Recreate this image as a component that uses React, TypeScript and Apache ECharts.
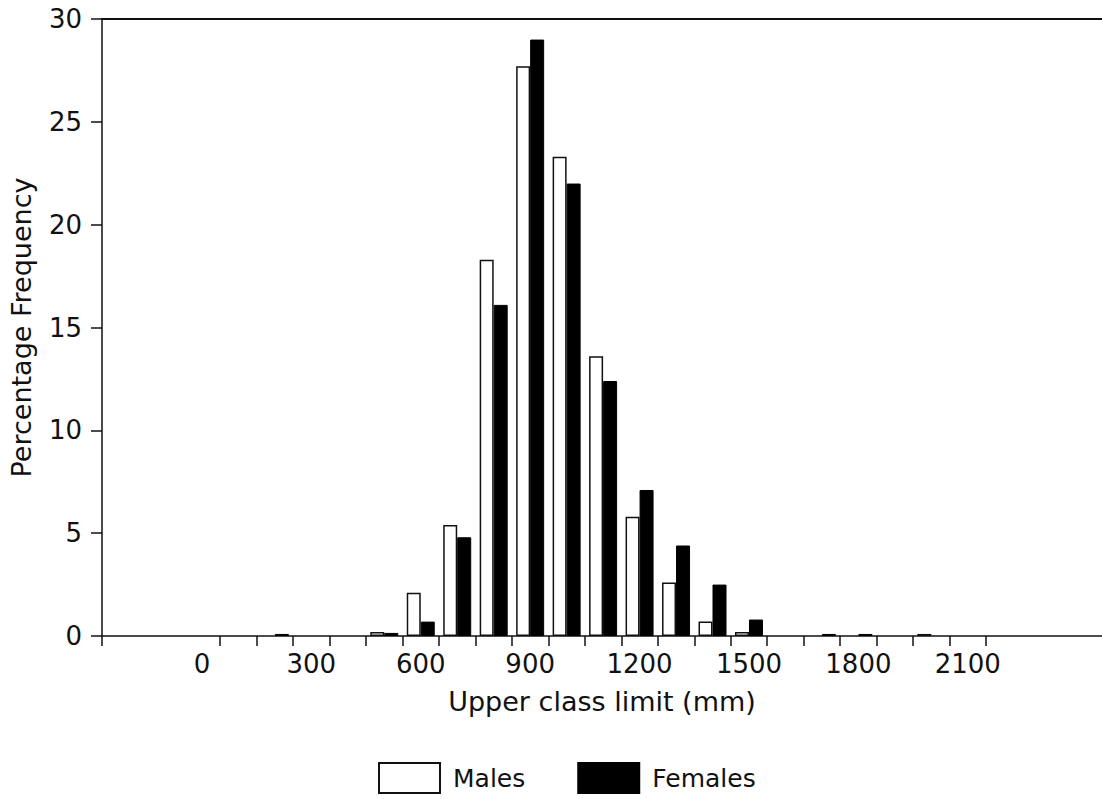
import React, { useEffect, useRef } from "react";
import * as echarts from "echarts";

// Bin centres (upper class limit, mm)
const bins = [0, 100, 200, 300, 400, 500, 600, 700, 800, 900, 1000, 1100, 1200, 1300, 1400, 1500, 1600, 1700, 1800, 1900, 2000, 2100];
const males = [0, 0, 0, 0, 0, 0.2, 2.1, 5.4, 18.3, 27.7, 23.3, 13.6, 5.8, 2.6, 0.7, 0.2, 0, 0, 0, 0, 0.1, 0];
const females = [0, 0, 0.1, 0, 0, 0.15, 0.7, 4.8, 16.1, 29.0, 22.0, 12.4, 7.1, 4.4, 2.5, 0.8, 0, 0.1, 0.1, 0, 0, 0];
const xLabelValues = [0, 300, 600, 900, 1200, 1500, 1800, 2100];
const xTickValues = [-274, 50, 150, 250, 350, 450, 550, 650, 750, 850, 950, 1050, 1150, 1250, 1350, 1450, 1550, 1650, 1750, 1850, 1950, 2050, 2150];
const X_MIN = -274;
const X_MAX = 2468;

const FONT = "DejaVu Sans";
const INK = "#111";

export default function App() {
  const ref = useRef<HTMLDivElement>(null);
  useEffect(() => {
    document.body.style.margin = "0";
    if (!ref.current) return;
    const chart = echarts.init(ref.current, null, { renderer: "svg" });
    const toData = (vals: number[]) =>
      bins.map((b, i) => [b, vals[i]]).filter((d) => d[1] > 0);
    chart.setOption({
      animation: false,
      backgroundColor: "#ffffff",
      textStyle: { fontFamily: FONT, color: INK },
      grid: { left: 102, top: 19, right: 0, bottom: 163, containLabel: false },
      legend: {
        left: 378,
        top: 762,
        padding: 0,
        itemWidth: 61,
        itemHeight: 30,
        itemGap: 52,
        icon: "rect",
        textStyle: { fontFamily: FONT, fontSize: 25, color: INK, padding: [0, 0, 0, 8] },
        data: ["Males", "Females"],
      },
      xAxis: [
        {
          type: "value",
          min: X_MIN,
          max: X_MAX,
          name: "Upper class limit (mm)",
          nameLocation: "middle",
          nameGap: 52,
          nameTextStyle: { fontFamily: FONT, fontSize: 27, color: INK },
          axisLine: { show: true, onZero: false, lineStyle: { color: INK, width: 1.5 } },
          axisTick: { show: true, inside: false, length: 10, customValues: xTickValues, lineStyle: { color: INK, width: 1.5 } },
          axisLabel: {
            customValues: xLabelValues,
            formatter: (v: number) => String(v),
            fontFamily: FONT,
            fontSize: 26,
            color: INK,
            margin: 15,
          },
          splitLine: { show: false },
        },
        {
          type: "value",
          position: "top",
          min: X_MIN,
          max: X_MAX,
          axisLine: { show: true, onZero: false, lineStyle: { color: INK, width: 2 } },
          axisTick: { show: false },
          axisLabel: { show: false },
          splitLine: { show: false },
        },
      ],
      yAxis: {
        type: "value",
        min: 0,
        max: 30,
        interval: 5,
        name: "Percentage Frequency",
        nameLocation: "middle",
        nameRotate: 90,
        nameGap: 67,
        nameTextStyle: { fontFamily: FONT, fontSize: 27, color: INK },
        axisLine: { show: true, onZero: false, lineStyle: { color: INK, width: 1.5 } },
        axisTick: { show: true, inside: false, length: 11, lineStyle: { color: INK, width: 1.5 } },
        axisLabel: { fontFamily: FONT, fontSize: 26, color: INK, margin: 20 },
        splitLine: { show: false },
      },
      series: [
        {
          name: "Males",
          type: "bar",
          xAxisIndex: 0,
          barWidth: 14,
          barGap: "0%",
          itemStyle: { color: "#ffffff", borderColor: INK, borderWidth: 1.5 },
          data: toData(males),
        },
        {
          name: "Females",
          type: "bar",
          xAxisIndex: 0,
          barWidth: 14,
          barGap: "0%",
          itemStyle: { color: "#000000", borderColor: "#000000", borderWidth: 1 },
          data: toData(females),
        },
      ],
    });
    return () => chart.dispose();
  }, []);
  return <div ref={ref} style={{ width: 1102, height: 799 }} />;
}
